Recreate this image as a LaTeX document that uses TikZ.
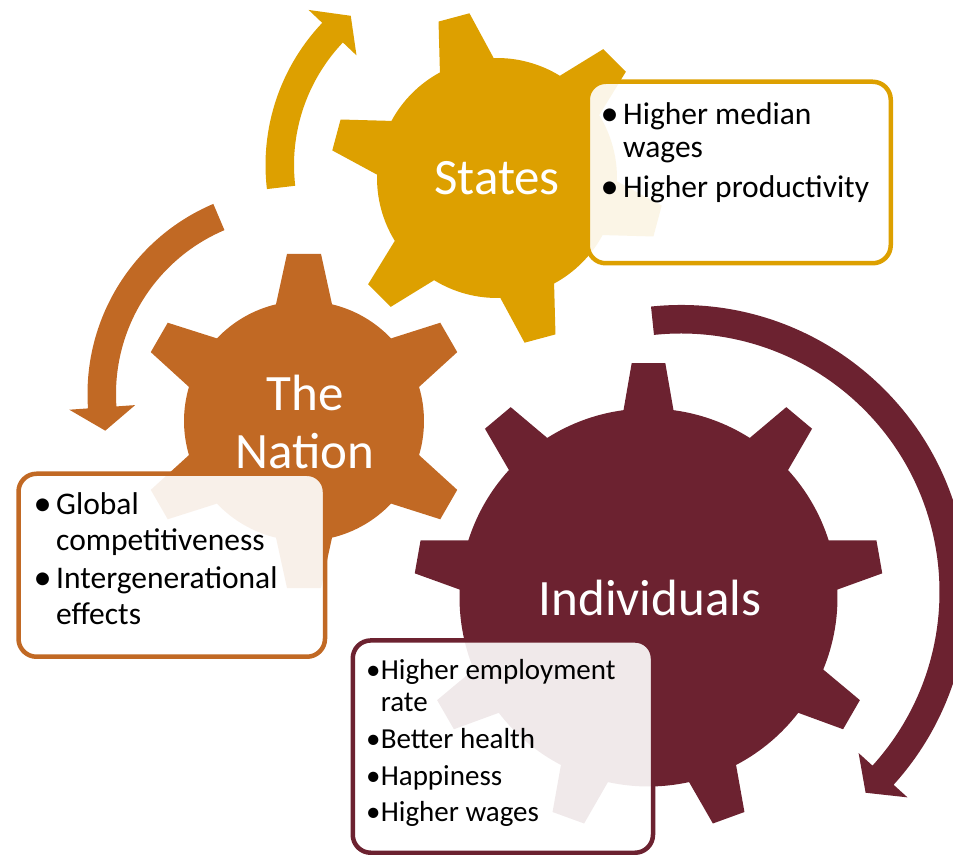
\documentclass[tikz,border=0pt]{standalone}
\usepackage{fontspec}
\setmainfont{Carlito}
\usepackage{tikz}
\definecolor{stategold}{RGB}{221,160,0}
\definecolor{nationrust}{RGB}{193,105,36}
\definecolor{indivred}{RGB}{108,34,48}

% gear: colour, centre, teeth, first tooth angle, body radius, tip radius, base half-angle, tip half-angle
\newcommand{\drawgear}[8]{%
  \pgfmathsetmacro{\gstep}{360/#3}
  \fill[#1, shift={#2}] ({#4-#7}:#5)
    \foreach \k in {1,...,#3}{
      -- ({#4+\gstep*(\k-1)-#8}:#6) -- ({#4+\gstep*(\k-1)+#8}:#6)
      -- ({#4+\gstep*(\k-1)+#7}:#5)
      arc[start angle={#4+\gstep*(\k-1)+#7}, end angle={#4+\gstep*\k-#7}, radius=#5]
    } -- cycle;
}
% block arrow on a circle: colour, centre, mid radius, start angle, shaft end angle, tip angle
\newcommand{\curvedarrow}[6]{%
  \fill[#1, shift={#2}] ({#4}:{#3+14.25}) arc[start angle=#4, end angle=#5, radius={#3+14.25}]
    -- ({#5}:{#3+33}) -- ({#6}:{#3}) -- ({#5}:{#3-33}) -- ({#5}:{#3-14.25})
    arc[start angle=#5, end angle=#4, radius={#3-14.25}] -- cycle;
}
% a slightly larger bullet
\newcommand{\bul}{\raisebox{-1pt}{\scalebox{1.15}{\textbullet}}}

\begin{document}
\begin{tikzpicture}[x=1pt, y=1pt,
  infobox/.style={draw=#1, line width=4.5pt, rounded corners=18pt, fill=white, fill opacity=0.9, text opacity=1, inner sep=0pt, anchor=north west},
  gearlabel/.style={text=white, align=center, font=\fontsize{51}{58}\selectfont},
  bullets/.style={anchor=base west, inner sep=0pt, font=\fontsize{31.5}{33}\selectfont}]

\useasboundingbox (0,0) rectangle (953,854);
\clip (0,0) rectangle (953,854);

% Arrows
\curvedarrow{stategold}{(472,689)}{192.25}{186.7}{136.5}{129.1}
\curvedarrow{nationrust}{(294,460)}{192.25}{113}{184}{191}
\curvedarrow{indivred}{(681,262)}{272.75}{96}{-42.2}{-47.4}

% Gears
\drawgear{stategold}{(497,676)}{6}{45}{120}{167}{13.4}{5.5}
\drawgear{nationrust}{(304,433)}{6}{90}{120}{168}{13.5}{5.8}
\drawgear{indivred}{(648.5,256.5)}{9}{90}{189}{235}{7.6}{4.1}

\node[gearlabel] (states) at (497,676) {States};
\node[gearlabel] (nation) at (305,432) {The\\Nation};
\node[gearlabel] (individuals) at (650,256.5) {Individuals};

% States
\node[infobox=stategold, minimum width=303pt, minimum height=181.5pt] (statesbox) at (585.5,774.5) {};
\node[bullets] (stateslist) at (600.5,729) {\begin{tabular}[t]{@{}p{22.5pt}@{}l@{}}
  \bul & Higher median\\
       & wages\\[7pt]
  \bul & Higher productivity
\end{tabular}};

% The Nation
\node[infobox=nationrust, minimum width=306.5pt, minimum height=183pt] (nationbox) at (16.25,382.5) {};
\node[bullets, font=\fontsize{31.5}{35.5}\selectfont] (nationlist) at (33.5,339) {\begin{tabular}[t]{@{}p{22.5pt}@{}l@{}}
  \bul & Global\\
       & competitiveness\\[3pt]
  \bul & Intergenerational\\
       & effects
\end{tabular}};

% Individuals
\node[infobox=indivred, minimum width=300.25pt, minimum height=212.3pt] (indivbox) at (350.5,215.8) {};
\node[bullets, font=\fontsize{29}{31.7}\selectfont] (indivlist) at (366,174) {\begin{tabular}[t]{@{}p{14.6pt}@{}l@{}}
  \textbullet & Higher employment\\
              & rate\\[5pt]
  \textbullet & Better health\\[5pt]
  \textbullet & Happiness\\[5pt]
  \textbullet & Higher wages
\end{tabular}};

\end{tikzpicture}
\end{document}
